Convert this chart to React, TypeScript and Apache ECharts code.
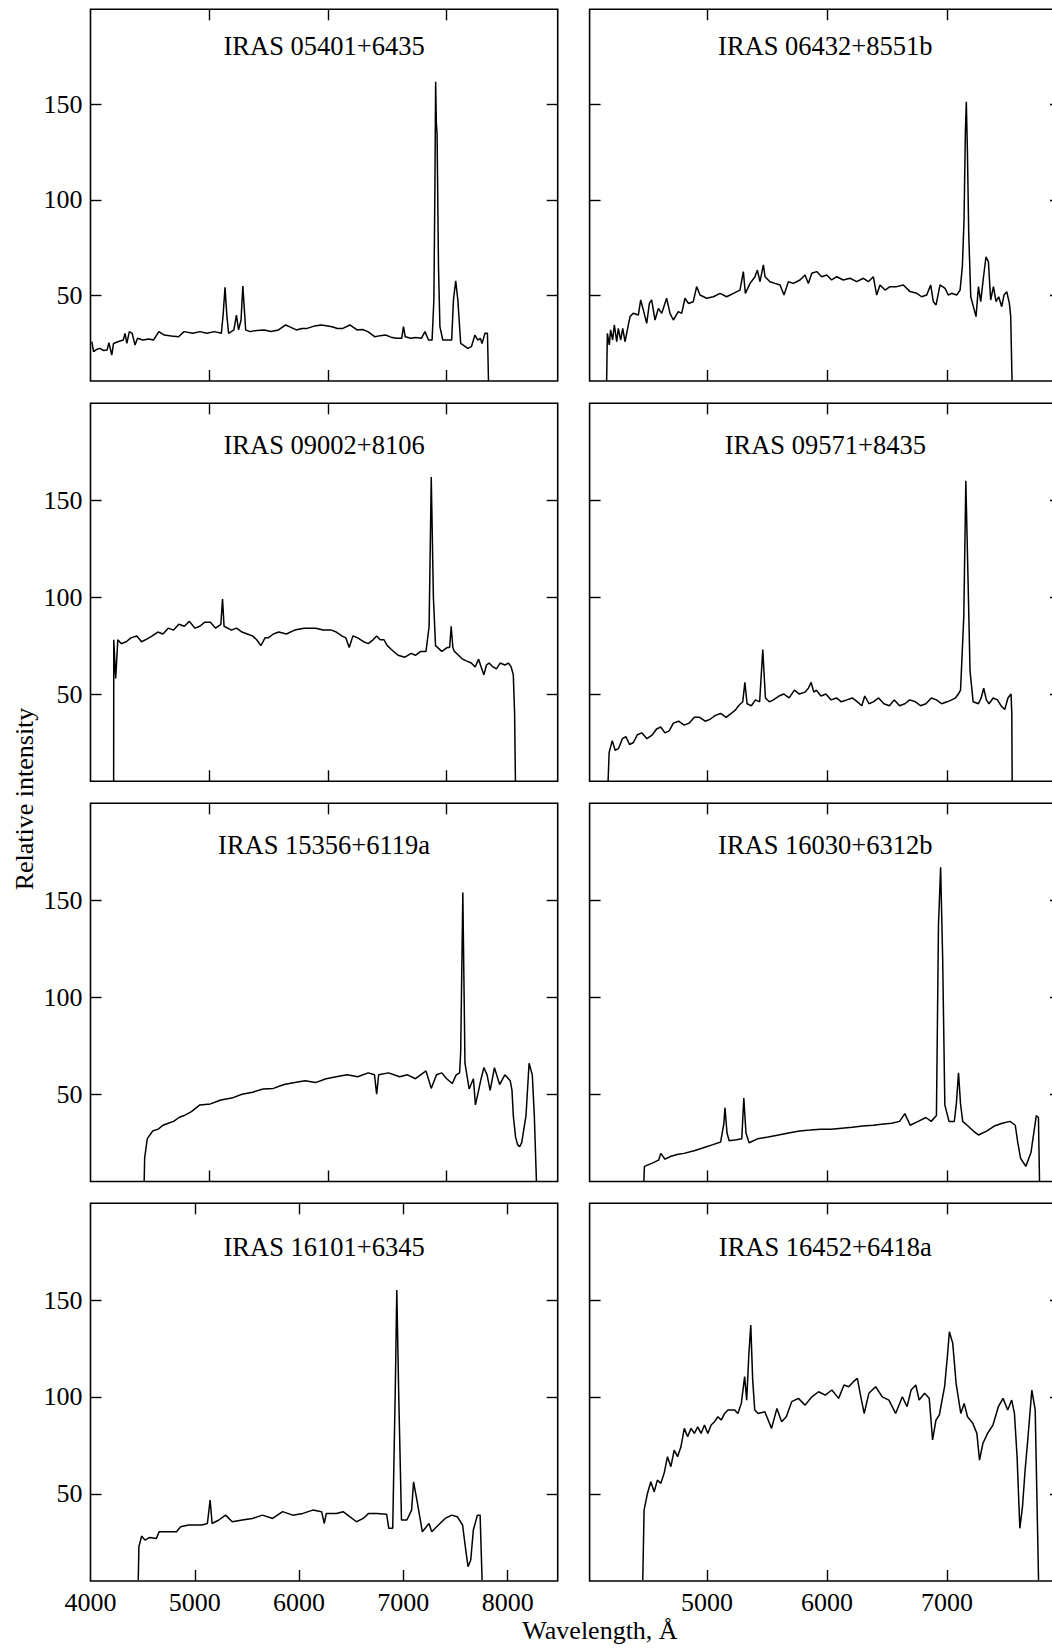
import React, { useEffect, useRef } from "react";
import * as echarts from "echarts";

// ---------- DATA ----------
const titles = [
  "IRAS 05401+6435",
  "IRAS 06432+8551b",
  "IRAS 09002+8106",
  "IRAS 09571+8435",
  "IRAS 15356+6119a",
  "IRAS 16030+6312b",
  "IRAS 16101+6345",
  "IRAS 16452+6418a",
];

const yTicks = [50, 100, 150];
const xTicksUpperLeft = [5000, 6000, 7000];
const xTicksBottomLeft = [5000, 6000, 7000, 8000];
const xLabelsBottomLeft = [4000, 5000, 6000, 7000, 8000];
const xTicksRight = [5000, 6000, 7000];
const xLabelsRight = [5000, 6000, 7000];

const rangeUpperLeft = [4000, 7935];
const rangeBottomLeft = [4000, 8480];
const rangeRight = [4022, 7950];
const rangeY = [5, 200];

const spec05401 = [
  [4011, 25.6], [4026, 20.4], [4050, 21.5], [4080, 22.1], [4110, 21], [4140, 21.3], [4155, 25.1], [4179, 18.6],
  [4194, 24.7], [4230, 25.6], [4276, 26.5], [4291, 30], [4306, 24.7], [4327, 30.9], [4351, 30], [4375, 23.9],
  [4396, 27.4], [4441, 26.5], [4490, 27], [4531, 26.5], [4576, 30.9], [4621, 29.1], [4681, 28.6], [4742, 28.2],
  [4787, 30.9], [4862, 30], [4922, 30.9], [4980, 30], [5043, 30.9], [5102, 30], [5117, 39.6], [5133, 54.1],
  [5148, 39.6], [5163, 30], [5208, 31.8], [5229, 39.6], [5247, 31.8], [5268, 37], [5283, 54.8], [5307, 31.8],
  [5343, 30.9], [5400, 31.5], [5463, 31.8], [5520, 31], [5584, 31.8], [5644, 34.4], [5674, 33.5], [5734, 31.8],
  [5780, 32.5], [5824, 32.6], [5884, 33.8], [5945, 34.4], [6035, 33.5], [6080, 32.5], [6125, 32.6], [6185, 34.4],
  [6245, 31.8], [6290, 32], [6336, 30.9], [6396, 28.2], [6440, 28.8], [6486, 29.1], [6530, 28], [6576, 27.4],
  [6621, 27.4], [6636, 33.5], [6651, 28.2], [6697, 27.4], [6740, 27.8], [6787, 27.4], [6817, 30.9], [6847, 26.5],
  [6877, 26.5], [6892, 47.5], [6901, 108.7], [6907, 162], [6913, 140], [6919, 134.9], [6931, 65], [6943, 33.5],
  [6967, 26.5], [7042, 26.5], [7057, 47.5], [7076, 57.6], [7094, 47.5], [7118, 24.7], [7178, 22.1], [7208, 23],
  [7238, 29.1], [7262, 26.5], [7283, 27.4], [7298, 24.7], [7322, 30], [7343, 30], [7347, 20], [7352, 5],
];

const spec06432 = [
  [4164, 5], [4170, 30], [4186, 23.9], [4197, 31.8], [4214, 26.5], [4228, 34.4], [4248, 25.6], [4261, 32.6],
  [4281, 26.5], [4298, 32.6], [4317, 25.6], [4345, 34.4], [4359, 38.8], [4386, 40.5], [4428, 39.6], [4448, 47.5],
  [4470, 42.2], [4498, 35.2], [4520, 45.7], [4539, 47.5], [4567, 37], [4595, 43.1], [4623, 40.5], [4664, 48.4],
  [4692, 40.5], [4720, 37], [4761, 41.4], [4789, 40.5], [4817, 48.4], [4845, 45.7], [4886, 46.6], [4914, 54.5],
  [4942, 50.1], [4997, 48.4], [5053, 49.2], [5109, 51], [5164, 49.2], [5220, 51], [5275, 52.7], [5303, 62.4],
  [5320, 51], [5359, 56.2], [5400, 59.7], [5420, 63.2], [5442, 57.1], [5470, 65.9], [5484, 59.7], [5525, 57.1],
  [5567, 56.2], [5609, 55.4], [5642, 50.1], [5678, 57.1], [5720, 56.2], [5775, 58], [5817, 60.6], [5845, 56.2],
  [5873, 61.5], [5914, 62.4], [5956, 59.7], [5998, 60.6], [6039, 58], [6081, 59.7], [6136, 58], [6192, 58.9],
  [6248, 57.1], [6303, 58.9], [6345, 57.1], [6386, 59.7], [6414, 50.1], [6442, 55.4], [6484, 52.7], [6525, 54.5],
  [6581, 54.5], [6636, 55.4], [6692, 51.9], [6748, 51], [6789, 49.2], [6831, 50.1], [6864, 55.4], [6886, 46.6],
  [6909, 44.9], [6942, 55.4], [6984, 53.6], [7011, 50.1], [7039, 51], [7081, 50.1], [7109, 52.7], [7128, 65],
  [7142, 89.5], [7153, 134.9], [7161, 151.5], [7170, 126.2], [7181, 82.5], [7198, 49.2], [7220, 44], [7242, 38.8],
  [7262, 54.5], [7281, 46.6], [7303, 58.9], [7325, 70.2], [7345, 67.6], [7364, 47.5], [7387, 54.5], [7409, 46.6],
  [7431, 49.2], [7456, 44], [7475, 50.1], [7498, 51.9], [7520, 45.7], [7531, 38.8], [7542, 5],
];

const spec09002 = [
  [4195, 5], [4196, 78], [4212, 58], [4230, 78], [4260, 76], [4301, 77], [4340, 79], [4390, 80], [4430, 77],
  [4478, 78.5], [4520, 80], [4567, 82], [4610, 81], [4655, 84], [4700, 83], [4744, 86], [4790, 85], [4833, 87.5],
  [4880, 84], [4921, 85], [4960, 87], [5010, 87], [5054, 84], [5098, 86], [5112, 99], [5125, 85], [5187, 83],
  [5230, 84], [5276, 82], [5320, 81], [5364, 80], [5400, 78], [5435, 75], [5470, 79], [5497, 79], [5540, 81],
  [5586, 82], [5650, 81], [5719, 83], [5800, 84], [5896, 84], [5960, 83], [6029, 83], [6070, 82], [6117, 80],
  [6150, 79], [6179, 74], [6210, 80], [6250, 79], [6300, 77], [6339, 76], [6380, 78], [6410, 80], [6440, 78],
  [6472, 78], [6500, 75], [6534, 73], [6590, 70], [6649, 69], [6700, 71], [6737, 70], [6781, 72], [6826, 72],
  [6852, 85], [6870, 162], [6888, 100], [6906, 75], [6959, 72], [7003, 74], [7025, 74], [7038, 85], [7052, 74],
  [7065, 72], [7100, 70], [7134, 68], [7170, 67], [7207, 66], [7240, 64], [7269, 68], [7290, 64], [7313, 60],
  [7335, 65], [7357, 66], [7390, 64], [7419, 63], [7450, 66], [7490, 65], [7520, 66], [7543, 64], [7561, 60],
  [7572, 40], [7579, 5],
];

const spec09571 = [
  [4176, 5], [4185, 20], [4211, 26], [4235, 21], [4264, 22], [4295, 27], [4325, 28], [4355, 24], [4387, 25],
  [4420, 29], [4457, 30], [4500, 27], [4545, 29], [4580, 32], [4615, 33], [4650, 30], [4685, 31], [4720, 35],
  [4764, 36], [4810, 34], [4851, 35], [4895, 38], [4939, 38], [4985, 36], [5027, 37], [5070, 39], [5114, 40],
  [5160, 38], [5202, 40], [5240, 42], [5263, 44], [5298, 46], [5316, 56], [5334, 45], [5370, 44], [5404, 47],
  [5439, 46], [5465, 73], [5487, 48], [5520, 46], [5553, 47], [5600, 49], [5641, 50], [5685, 48], [5728, 52],
  [5770, 50], [5816, 51], [5845, 53], [5868, 56], [5890, 51], [5912, 52], [5950, 49], [5991, 50], [6035, 47],
  [6079, 48], [6120, 46], [6166, 47], [6210, 48], [6254, 46], [6290, 44], [6315, 49], [6350, 45], [6386, 46],
  [6430, 48], [6474, 45], [6520, 44], [6561, 47], [6605, 44], [6649, 45], [6690, 47], [6737, 46], [6780, 44],
  [6824, 45], [6870, 48], [6912, 47], [6955, 45], [7000, 46], [7040, 47], [7070, 48], [7095, 50], [7113, 52],
  [7140, 90], [7157, 160], [7175, 110], [7192, 62], [7218, 46], [7262, 45], [7285, 48], [7306, 53], [7328, 47],
  [7350, 45], [7385, 48], [7420, 47], [7450, 44], [7481, 42], [7508, 48], [7534, 50], [7540, 40], [7543, 5],
];

const spec15356 = [
  [4452, 5], [4456, 17], [4478, 27], [4500, 29], [4523, 31], [4570, 32], [4611, 34], [4655, 35], [4700, 36],
  [4745, 38], [4788, 39], [4850, 41], [4921, 44.5], [5010, 45], [5098, 47], [5190, 48], [5276, 50], [5365, 51],
  [5453, 52.7], [5540, 53], [5630, 55], [5720, 56], [5807, 57], [5895, 56], [5984, 58], [6070, 59], [6161, 60],
  [6250, 59], [6339, 61], [6392, 60], [6410, 50], [6427, 60], [6510, 61], [6604, 59], [6670, 60], [6737, 58],
  [6780, 60], [6826, 62], [6870, 53], [6914, 60], [6959, 61], [7000, 58], [7047, 55.5], [7080, 60], [7109, 61],
  [7118, 72], [7136, 154], [7154, 66], [7189, 52.7], [7225, 58], [7242, 44.5], [7269, 52], [7290, 58],
  [7313, 63.7], [7340, 60], [7366, 52], [7385, 58], [7402, 63.7], [7446, 55], [7490, 60], [7535, 57], [7550, 52],
  [7561, 39], [7580, 28], [7597, 24], [7615, 23], [7632, 25], [7668, 39], [7694, 66], [7721, 60], [7738, 39],
  [7756, 5],
];

const spec16030 = [
  [4474, 5], [4479, 12.8], [4544, 14.5], [4597, 16], [4615, 19.5], [4650, 16.5], [4700, 18], [4760, 19],
  [4808, 19.5], [4900, 21], [4983, 22.7], [5050, 24], [5114, 25.4], [5141, 35], [5150, 43], [5167, 30],
  [5185, 26], [5246, 26.5], [5290, 27], [5307, 48], [5325, 30], [5351, 25], [5421, 27], [5510, 28], [5596, 29],
  [5680, 30], [5772, 31], [5860, 31.5], [5947, 32], [6035, 32], [6123, 32.5], [6210, 33], [6298, 33.6],
  [6385, 34], [6473, 34.7], [6540, 35], [6605, 36], [6649, 40], [6693, 34], [6760, 36], [6824, 38], [6868, 36],
  [6912, 39], [6929, 137], [6947, 167], [6964, 120], [6982, 44.5], [7017, 36], [7061, 36], [7078, 45],
  [7096, 61], [7113, 45], [7131, 36], [7175, 33.6], [7220, 31], [7262, 29], [7330, 31], [7394, 33.6],
  [7460, 35], [7525, 36], [7569, 34], [7590, 25], [7613, 17], [7657, 12.8], [7700, 20], [7744, 39],
  [7762, 38], [7771, 5],
];

const spec16101 = [
  [4458, 5.5], [4464, 22.7], [4490, 28.2], [4522, 26.1], [4567, 27.5], [4632, 27], [4658, 30.4], [4748, 30.4],
  [4825, 30.4], [4864, 33], [4941, 33.9], [5070, 33.9], [5121, 34.7], [5147, 46.8], [5166, 34.7], [5231, 36.5],
  [5295, 39], [5359, 35.6], [5456, 36.5], [5553, 37.3], [5649, 39], [5746, 37.3], [5842, 40.8], [5939, 39],
  [6036, 39.9], [6132, 41.6], [6216, 40.8], [6242, 34.7], [6261, 39.9], [6358, 39.9], [6422, 40.8],
  [6486, 38.2], [6551, 35.6], [6615, 37.3], [6667, 39.9], [6744, 39.9], [6840, 39.4], [6860, 32.2],
  [6898, 32.2], [6924, 108.7], [6937, 155.2], [6956, 100.1], [6982, 36.5], [7034, 36.5], [7079, 41.6],
  [7098, 56.2], [7130, 46.8], [7182, 30.4], [7246, 34.7], [7272, 30.4], [7336, 33.9], [7401, 37.3],
  [7465, 39], [7517, 38.2], [7568, 33.9], [7594, 22.7], [7620, 12.4], [7646, 15.8], [7671, 31.3], [7710, 39],
  [7736, 39], [7755, 5.5],
];

const spec16452 = [
  [4465, 5.5], [4476, 41.6], [4504, 50.2], [4532, 56.2], [4560, 51.1], [4587, 57.1], [4615, 55.4], [4643, 60.6],
  [4671, 69.2], [4699, 64], [4727, 72.6], [4755, 69.2], [4783, 74.3], [4811, 83.8], [4839, 79.5], [4867, 83.8],
  [4895, 81.2], [4923, 84.6], [4951, 81.2], [4979, 85.5], [5007, 81.2], [5035, 85.5], [5063, 87.2],
  [5091, 89.8], [5119, 88.1], [5147, 91.5], [5175, 93.3], [5231, 93.3], [5258, 91.5], [5286, 96.7],
  [5314, 110.5], [5331, 98.4], [5348, 120.8], [5365, 137.1], [5381, 108.7], [5398, 93.3], [5426, 91.5],
  [5482, 92.4], [5538, 83.8], [5583, 94.1], [5622, 87.2], [5661, 89.8], [5706, 97.6], [5762, 99.3],
  [5818, 95.8], [5874, 100.1], [5930, 102.7], [5985, 101], [6041, 103.6], [6097, 99.3], [6142, 106.2],
  [6181, 105.3], [6220, 107.9], [6253, 109.6], [6282, 100.1], [6310, 91.5], [6349, 101.9], [6405, 105.3],
  [6461, 100.1], [6516, 98.4], [6572, 91.5], [6628, 100.1], [6667, 95], [6701, 103.6], [6740, 106.2],
  [6768, 98.4], [6813, 101.9], [6852, 99.3], [6880, 77.8], [6908, 88.1], [6936, 90.7], [6980, 105.3],
  [7003, 120.8], [7020, 133.7], [7048, 127.7], [7076, 107], [7115, 91.5], [7143, 96.7], [7171, 89.8],
  [7215, 86.4], [7249, 81.2], [7271, 67.4], [7299, 76], [7338, 81.2], [7383, 85.5], [7428, 95], [7467, 99.3],
  [7506, 93.3], [7539, 98.4], [7562, 91.5], [7584, 69.2], [7607, 32.2], [7629, 43.3], [7651, 62.3],
  [7673, 77.8], [7707, 103.6], [7735, 93.3], [7763, 5.5],
];

const spectra = [spec05401, spec06432, spec09002, spec09571, spec15356, spec16030, spec16101, spec16452];

// ---------- LAYOUT ----------
const FONT = "Liberation Serif";
const COLS = [
  { left: 90.5, width: 467.2 },
  { left: 589.6, width: 471.4 },
];
const ROWS = [
  { top: 9.3, height: 371.7, titleDy: 37 },
  { top: 403.3, height: 378, titleDy: 42 },
  { top: 803.3, height: 378.2, titleDy: 42 },
  { top: 1203.3, height: 377.7, titleDy: 43.5 },
];

function buildOption() {
  const grid: any[] = [];
  const xAxis: any[] = [];
  const yAxis: any[] = [];
  const series: any[] = [];
  const graphic: any[] = [];

  const tickStyle = { inside: true, length: 11, lineStyle: { color: "#000", width: 1.4 } };
  const labelStyle = {
    color: "#000",
    fontFamily: FONT,
    fontSize: 26,
    formatter: (v: number) => String(v),
  };

  for (let i = 0; i < 8; i++) {
    const row = Math.floor(i / 2);
    const col = i % 2;
    const c = COLS[col];
    const r = ROWS[row];
    grid.push({
      left: c.left,
      top: r.top,
      width: c.width,
      height: r.height,
      show: true,
      borderColor: "#000",
      borderWidth: 1.6,
      backgroundColor: "transparent",
      containLabel: false,
      outerBoundsMode: "none",
    });

    let xr: number[], xt: number[], xl: number[];
    if (col === 1) {
      xr = rangeRight;
      xt = xTicksRight;
      xl = xLabelsRight;
    } else if (row === 3) {
      xr = rangeBottomLeft;
      xt = xTicksBottomLeft;
      xl = xLabelsBottomLeft;
    } else {
      xr = rangeUpperLeft;
      xt = xTicksUpperLeft;
      xl = xTicksUpperLeft;
    }
    const showX = row === 3;
    xAxis.push({
      type: "value",
      gridIndex: i,
      position: "bottom",
      min: xr[0],
      max: xr[1],
      axisLine: { show: false },
      splitLine: { show: false },
      axisTick: { ...tickStyle, customValues: xt },
      axisLabel: { ...labelStyle, show: showX, customValues: xl, margin: 8, showMinLabel: true, showMaxLabel: true },
    });
    xAxis.push({
      type: "value",
      gridIndex: i,
      position: "top",
      min: xr[0],
      max: xr[1],
      axisLine: { show: false },
      splitLine: { show: false },
      axisTick: { ...tickStyle, customValues: xt },
      axisLabel: { show: false },
    });
    yAxis.push({
      type: "value",
      gridIndex: i,
      position: "left",
      min: rangeY[0],
      max: rangeY[1],
      axisLine: { show: false },
      splitLine: { show: false },
      axisTick: { ...tickStyle, customValues: yTicks },
      axisLabel: { ...labelStyle, show: col === 0, customValues: yTicks, margin: 8 },
    });
    yAxis.push({
      type: "value",
      gridIndex: i,
      position: "right",
      min: rangeY[0],
      max: rangeY[1],
      axisLine: { show: false },
      splitLine: { show: false },
      axisTick: { ...tickStyle, customValues: yTicks },
      axisLabel: { show: false },
    });
    series.push({
      type: "line",
      xAxisIndex: 2 * i,
      yAxisIndex: 2 * i,
      data: spectra[i],
      showSymbol: false,
      symbol: "none",
      silent: true,
      clip: true,
      lineStyle: { color: "#000", width: 1.5 },
    });
    graphic.push({
      type: "text",
      x: c.left + c.width / 2,
      y: r.top + r.titleDy,
      style: {
        text: titles[i],
        fill: "#000",
        fontFamily: FONT,
        fontSize: 26.5,
        align: "center",
        verticalAlign: "middle",
      },
    });
  }

  graphic.push({
    type: "text",
    x: 24,
    y: 799,
    rotation: Math.PI / 2,
    style: {
      text: "Relative intensity",
      fill: "#000",
      fontFamily: FONT,
      fontSize: 26,
      align: "center",
      verticalAlign: "middle",
    },
  });
  graphic.push({
    type: "text",
    x: 600,
    y: 1630,
    style: {
      text: "Wavelength, Å",
      fill: "#000",
      fontFamily: FONT,
      fontSize: 26,
      align: "center",
      verticalAlign: "middle",
    },
  });

  return {
    animation: false,
    backgroundColor: "#fff",
    textStyle: { fontFamily: FONT },
    grid,
    xAxis,
    yAxis,
    series,
    graphic,
  };
}

export default function App() {
  const ref = useRef<HTMLDivElement>(null);
  useEffect(() => {
    if (!ref.current) return;
    const chart = echarts.init(ref.current, null, { renderer: "svg" });
    chart.setOption(buildOption() as any);
    return () => chart.dispose();
  }, []);
  return (
    <div
      ref={ref}
      style={{ position: "absolute", left: 0, top: 0, width: 1052, height: 1649, overflow: "hidden", background: "#fff" }}
    />
  );
}
